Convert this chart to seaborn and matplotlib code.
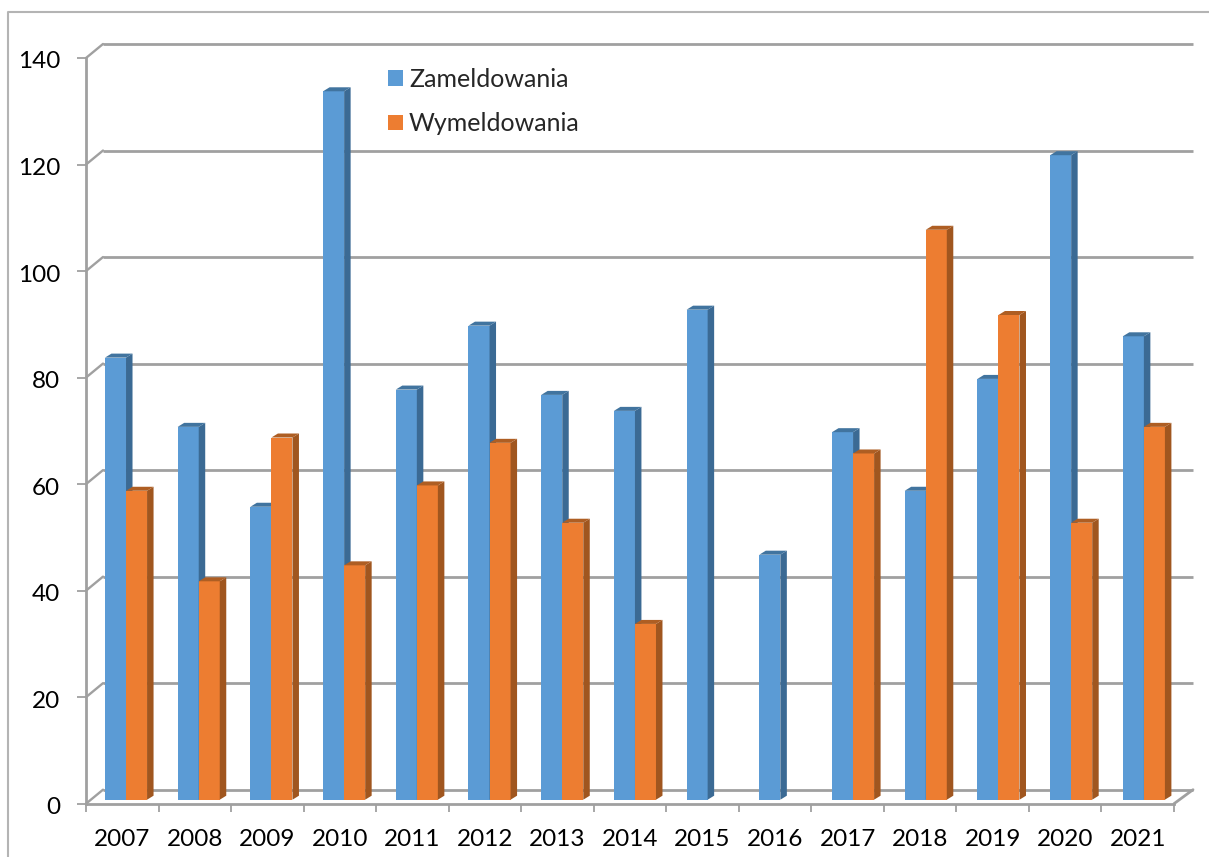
import numpy as np
import pandas as pd
import matplotlib
matplotlib.use('Agg')
import matplotlib.pyplot as plt
import seaborn as sns
from matplotlib.lines import Line2D
from matplotlib.patches import Polygon
from matplotlib.transforms import Affine2D, IdentityTransform

years = ['2007', '2008', '2009', '2010', '2011', '2012', '2013', '2014',
         '2015', '2016', '2017', '2018', '2019', '2020', '2021']
zameldowania = [83, 70, 55, 133, 77, 89, 76, 73, 92, 46, 69, 58, 79, 121, 87]
wymeldowania = [58, 41, 68, 44, 59, 67, 52, 33, np.nan, np.nan, 65, 107, 91, 52, 70]
y_ticks = [0, 20, 40, 60, 80, 100, 120, 140]

W, H = 1209, 857
GRID = '#a0a0a0'
FRAME = '#b4b4b4'
COLORS = {'Zameldowania': '#5b9bd5', 'Wymeldowania': '#ed7d31'}
SIDES = {'Zameldowania': '#3b6a94', 'Wymeldowania': '#a0561f'}
TOPS = {'Zameldowania': '#41749f', 'Wymeldowania': '#ae5e23'}

sns.set_style('white')
plt.rcParams['font.family'] = ['Lato', 'DejaVu Sans']

df = pd.DataFrame({
    'rok': years * 2,
    'seria': ['Zameldowania'] * len(years) + ['Wymeldowania'] * len(years),
    'ile': zameldowania + wymeldowania,
})

fig = plt.figure(figsize=(W / 100, H / 100), dpi=100)
ax = fig.add_axes([86 / W, (H - 803.7) / H, 1088 / W, 745.7 / H])
ax.patch.set_alpha(0)

sns.barplot(data=df, x='rok', y='ile', hue='seria', palette=COLORS, width=0.58,
            gap=0, saturation=1, linewidth=0, ax=ax, zorder=3)
ax.set_xlim(-0.5, 14.5)
ax.set_ylim(0, 140)


def shift(px, py):
    return ax.transData + Affine2D().translate(px, py)


### back wall and floor
back_dx, back_dy = 17, 14
ax.hlines(y_ticks, -0.5, 14.53, color=GRID, lw=2, transform=shift(back_dx, back_dy),
          clip_on=False, zorder=1)
for t in y_ticks:
    p0 = ax.transData.transform((-0.5, t))
    ax.add_line(Line2D([p0[0], p0[0] + back_dx], [p0[1], p0[1] + back_dy], color=GRID,
                       lw=1.7, transform=IdentityTransform(), clip_on=False, zorder=1))
p0 = ax.transData.transform((14.5, 0))
ax.add_line(Line2D([p0[0], p0[0] + 19], [p0[1], p0[1] + back_dy], color=GRID,
                   lw=2, transform=IdentityTransform(), clip_on=False, zorder=1))

### bars sit mid-way in the depth, side and top faces built from each bar
bar_dy = 4
depth_x, depth_y = 6.5, 4
for n, (cont, name) in enumerate(zip(ax.containers, COLORS)):
    for bar in cont:
        # bar plane is slightly wider than the axis
        bar_dx = 3.75 + 0.17 * round(bar.get_x() + bar.get_width() / 2)
        bar.set_transform(shift(bar_dx, bar_dy))
        bar.set_clip_on(False)
        bar.set_zorder(3 + n)
        x0, y0 = ax.transData.transform((bar.get_x(), 0))
        x1, y1 = ax.transData.transform((bar.get_x() + bar.get_width(), bar.get_height()))
        x0, x1 = x0 + bar_dx, x1 + bar_dx
        y0, y1 = y0 + bar_dy, y1 + bar_dy
        side = [(x1, y0), (x1 + depth_x, y0 + depth_y), (x1 + depth_x, y1 + depth_y), (x1, y1)]
        top = [(x0, y1), (x0 + depth_x, y1 + depth_y), (x1 + depth_x, y1 + depth_y), (x1, y1)]
        ax.add_patch(Polygon(side, closed=True, fc=SIDES[name], ec='none', clip_on=False,
                             transform=IdentityTransform(), zorder=3 + n))
        ax.add_patch(Polygon(top, closed=True, fc=TOPS[name], ec='none', clip_on=False,
                             transform=IdentityTransform(), zorder=3 + n))

### axes
sns.despine(ax=ax, top=True, right=True)
ax.spines['left'].set_color(GRID)
ax.spines['bottom'].set_color(GRID)
ax.spines['left'].set_linewidth(2)
ax.spines['bottom'].set_linewidth(2)
ax.set_xlabel('')
ax.set_ylabel('')
ax.set_yticks(y_ticks)
ax.set_xticks(np.arange(-0.5, 15), minor=True)
ax.tick_params(axis='y', left=True, length=6.5, width=1.3, color=GRID, labelsize=17.5,
               labelcolor='black', pad=12)
ax.tick_params(axis='x', which='major', bottom=False, length=0, labelsize=17.5,
               labelcolor='black', pad=18)
ax.tick_params(axis='x', which='minor', bottom=True, length=6, width=1.3, color=GRID)
for label in ax.get_yticklabels():
    label.set_transform(label.get_transform() + Affine2D().translate(0, -2))

### legend
handles, labels = ax.get_legend_handles_labels()
ax.legend(handles, labels, loc='upper left', bbox_to_anchor=(378 / W, (H - 58) / H),
          bbox_transform=fig.transFigure, frameon=False, fontsize=18, handlelength=0.6,
          handleheight=0.6, handletextpad=0.24, labelspacing=0.85, borderpad=0.4, borderaxespad=0)

### frame of the pasted picture
fig.add_artist(Line2D([7.5 / W, 7.5 / W, 1], [0, (H - 12) / H, (H - 12) / H], color=FRAME, lw=1.5))

plt.savefig('out.png', dpi=100)
